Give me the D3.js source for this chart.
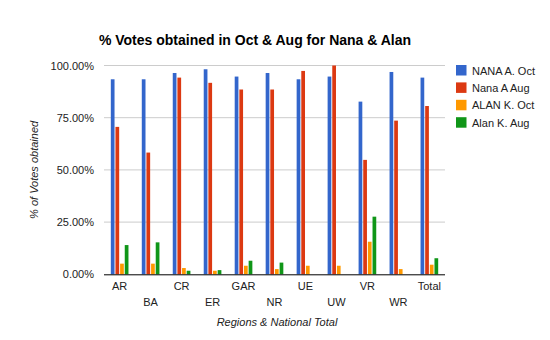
<!DOCTYPE html>
<html><head><meta charset="utf-8">
<script src="https://cdn.jsdelivr.net/npm/d3@7"></script>
<style>body{margin:0;background:#fff}svg{display:block}text{font-family:"Liberation Sans",Arial,sans-serif}</style>
</head><body>
<svg id="c" width="550" height="340"></svg>
<script>
const categories = ["AR","BA","CR","ER","GAR","NR","UE","UW","VR","WR","Total"];
const seriesNames = ["NANA A. Oct","Nana A Aug","ALAN K. Oct","Alan K. Aug"];
const nanaOct = [93.4,93.4,96.4,98.2,94.7,96.4,93.4,94.7,82.7,96.9,94.2];
const nanaAug = [70.6,58.3,94.2,91.7,88.5,88.5,97.4,100.0,54.8,73.6,80.6];
const alanOct = [5.1,5.1,3.0,1.7,4.1,2.5,4.1,4.1,15.6,2.5,4.6];
const alanAug = [14.0,15.3,1.7,2.0,6.5,5.6,0,0,27.6,0,7.7];
const yTicks = [0,25,50,75,100];
const colors = ["#3366cc","#dc3912","#ff9900","#109618"];
const series = [nanaOct,nanaAug,alanOct,alanAug];

const svg = d3.select("#c");
const L=104, R=445, T=65.5, B=274.3;
const x = d3.scaleBand().domain(categories).range([L,R]).paddingInner(0.43).paddingOuter(0.22);
const xs = d3.scaleBand().domain(d3.range(4)).range([0,x.bandwidth()]).paddingInner(0.2);
const y = d3.scaleLinear().domain([0,100]).range([B,T]);

svg.append("text").attr("x",255).attr("y",45).attr("text-anchor","middle")
  .attr("font-size",14).attr("font-weight","bold").text("% Votes obtained in Oct & Aug for Nana & Alan");

// gridlines
svg.append("g").selectAll("line").data(yTicks.filter(d=>d>0)).join("line")
  .attr("x1",L).attr("x2",R).attr("y1",d=>y(d)).attr("y2",d=>y(d)).attr("stroke","#cccccc");

// y axis labels
const yAx = svg.append("g").attr("transform",`translate(${L},0)`)
  .call(d3.axisLeft(y).tickValues(yTicks).tickSize(0).tickPadding(10).tickFormat(d=>d.toFixed(2)+"%"));
yAx.select(".domain").remove();
yAx.selectAll("text").attr("font-size",11).attr("fill","#222").style("font-family","Liberation Sans, Arial, sans-serif");

// bars
const g = svg.append("g");
categories.forEach((c,i)=>{
  series.forEach((s,k)=>{
    if(s[i]>0) g.append("rect").attr("x",x(c)+xs(k)).attr("width",xs.bandwidth())
      .attr("y",y(s[i])).attr("height",B-y(s[i])).attr("fill",colors[k]);
  });
});

// baseline
svg.append("line").attr("x1",L).attr("x2",R).attr("y1",B+0.5).attr("y2",B+0.5).attr("stroke","#000");

// x labels staggered
const xAx = svg.append("g").attr("transform",`translate(0,${B})`)
  .call(d3.axisBottom(x).tickSize(0).tickPadding(0));
xAx.select(".domain").remove();
xAx.selectAll("text").attr("font-size",11).attr("fill","#222").style("font-family","Liberation Sans, Arial, sans-serif")
  .attr("dy",null).attr("y",(d,i)=> i%2===0 ? 16 : 31.5);

// axis titles
svg.append("text").attr("x",277).attr("y",326).attr("text-anchor","middle").attr("font-size",11)
  .attr("font-style","italic").attr("fill","#222").text("Regions & National Total");
svg.append("text").attr("transform",`translate(38,${(T+B)/2}) rotate(-90)`).attr("text-anchor","middle")
  .attr("font-size",11).attr("font-style","italic").attr("fill","#222").text("% of Votes obtained");

// legend
const lg = svg.append("g").attr("transform","translate(456,65)");
seriesNames.forEach((n,k)=>{
  const r = lg.append("g").attr("transform",`translate(0,${k*17.4})`);
  r.append("rect").attr("width",10.5).attr("height",10.5).attr("fill",colors[k]);
  r.append("text").attr("x",16).attr("y",9.5).attr("font-size",11).attr("fill","#222").text(n);
});
</script>
</body></html>
